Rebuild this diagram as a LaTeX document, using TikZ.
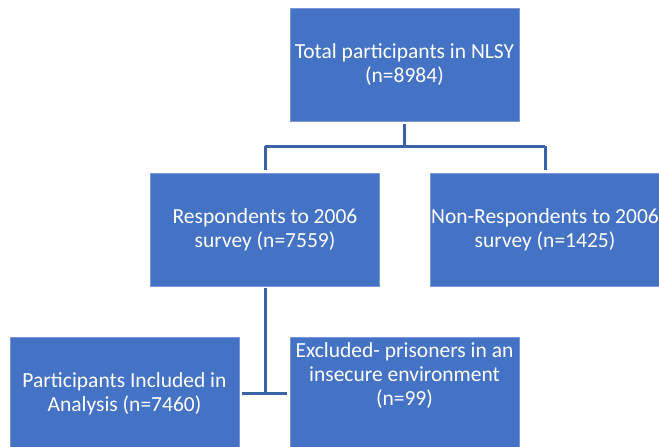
\documentclass[tikz,border=0pt]{standalone}
\usepackage{fontspec}
\setmainfont{Carlito}
\definecolor{boxblue}{HTML}{4472C4}
\definecolor{boxedge}{HTML}{7A98D6}
\definecolor{lineblue}{HTML}{3A62A8}
\begin{document}
\begin{tikzpicture}[x=1pt,y=-1pt,
  box/.style={rectangle,fill=boxblue,draw=boxedge,line width=0.6pt,
    minimum width=229pt,minimum height=113pt,inner sep=0pt,
    text=white,align=center,font=\fontsize{21.5}{24}\selectfont},
  txt/.style={text=white,align=center,inner sep=0pt,font=\fontsize{21.5}{24}\selectfont},
  conn/.style={draw=lineblue,line width=3pt}]
\useasboundingbox (0,0) rectangle (659,447);
\clip (0,0) rectangle (659,447);
\node[box] (top) at (404.5,64.5) {Total participants in NLSY\\(n=8984)};
\node[box] (ml) at (265,229.5) {Respondents to 2006\\survey (n=7559)};
\node[box] (mr) at (545,229.5) {Non-Respondents to 2006\\survey (n=1425)};
\node[box] (bl) at (124.5,393.5) {Participants Included in\\Analysis (n=7460)};
\node[box] (br) at (404.5,393.5) {};
\node[txt] (brt) at (404.5,376) {Excluded- prisoners in an\\insecure environment\\(n=99)};
\coordinate (split) at (404.5,146);
\draw[conn,shorten <=3pt] (top.south) -- (split);
\draw[conn,shorten >=3pt] (ml.north |- split) -- (ml.north);
\draw[conn,shorten >=3pt] (mr.north |- split) -- (mr.north);
\draw[conn] (ml.north |- split) -- (mr.north |- split);
\draw[conn,shorten <=2pt] (ml.south) -- (ml.south |- bl.east);
\draw[conn,shorten <=3pt,shorten >=3pt] (bl.east) -- (br.west);
\end{tikzpicture}
\end{document}
